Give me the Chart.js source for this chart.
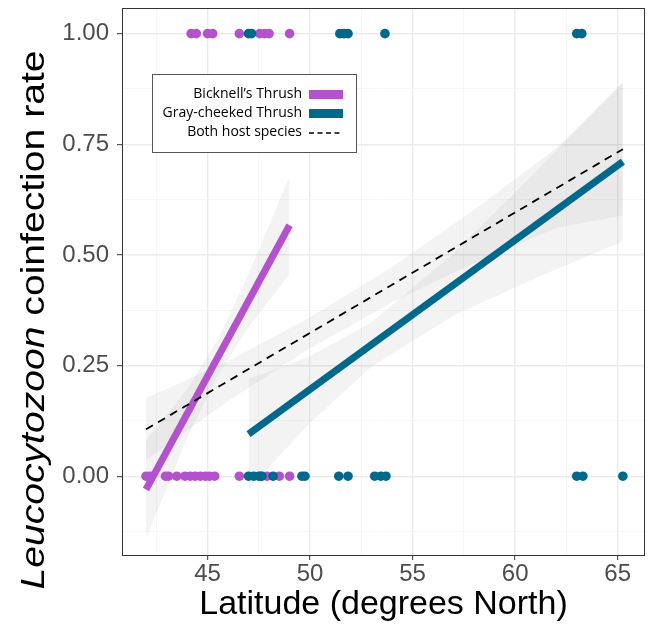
<!DOCTYPE html>
<html>
<head>
<meta charset="utf-8">
<script src="https://cdn.jsdelivr.net/npm/chart.js@4.4.1/dist/chart.umd.min.js"></script>
<style>
  html, body { margin: 0; padding: 0; background: #ffffff; }
  #wrap { width: 651px; height: 626px; position: relative; }
</style>
</head>
<body>
<div id="wrap"><canvas id="c" width="651" height="626"></canvas></div>
<script>
// ---------------- data ----------------
const seriesNames = ["Bicknell\u2019s Thrush", "Gray-cheeked Thrush", "Both host species"];

// Bicknell's Thrush observations (latitude, coinfection 0/1)
const bicknellLat   = [44.2, 44.45, 45.0, 45.25, 46.55, 47.55, 47.8, 48.0, 49.0,
                       42.0, 42.2, 42.95, 43.1, 43.5, 43.9, 44.15, 44.4, 44.65, 44.9, 45.1, 45.35, 46.55, 47.6, 47.9, 48.5, 49.0];
const bicknellCoinf = [1, 1, 1, 1, 1, 1, 1, 1, 1,
                       0, 0, 0, 0, 0, 0, 0, 0, 0, 0, 0, 0, 0, 0, 0, 0, 0];

// Gray-cheeked Thrush observations
const grayLat   = [47.0, 47.15, 51.45, 51.65, 51.85, 53.65, 63.0, 63.25,
                   47.0, 47.25, 47.5, 47.65, 48.2, 49.6, 49.75, 51.4, 51.85, 53.15, 53.45, 53.7, 63.0, 63.3, 65.25];
const grayCoinf = [1, 1, 1, 1, 1, 1, 1, 1,
                   0, 0, 0, 0, 0, 0, 0, 0, 0, 0, 0, 0, 0, 0, 0];

// fitted lines
const bicknellFitX = [42.0, 49.0];
const bicknellFitY = [-0.03, 0.567];
const grayFitX = [47.0, 65.25];
const grayFitY = [0.095, 0.711];
const bothFitX = [42.0, 65.25];
const bothFitY = [0.106, 0.739];

// confidence bands
const bicknellBandX  = [42.0, 44.0, 45.5, 47.0, 49.0];
const bicknellBandLo = [-0.14, 0.086, 0.229, 0.337, 0.457];
const bicknellBandHi = [0.08, 0.196, 0.309, 0.457, 0.677];

const grayBandX  = [47.0, 50.0, 53.0, 57.0, 61.0, 65.25];
const grayBandLo = [-0.03, 0.121, 0.248, 0.363, 0.448, 0.531];
const grayBandHi = [0.22, 0.271, 0.348, 0.503, 0.688, 0.891];

const bothBandX  = [42.0, 46.0, 50.0, 54.0, 58.0, 62.0, 65.25];
const bothBandLo = [0.036, 0.17, 0.289, 0.393, 0.482, 0.561, 0.589];
const bothBandHi = [0.176, 0.26, 0.359, 0.473, 0.602, 0.741, 0.889];

// axes
const xMajorTicks = [45, 50, 55, 60, 65];
const xMinorTicks = [42.5, 47.5, 52.5, 57.5, 62.5];
const yMajorTicks = [0, 0.25, 0.5, 0.75, 1.0];
const yMinorTicks = [-0.125, 0.125, 0.375, 0.625, 0.875];
const xRange = [40.83, 66.33];
const yRange = [-0.178, 1.058];
const xTitle = "Latitude (degrees North)";
const yTitleItalic = "Leucocytozoon";
const yTitleRest = " coinfection rate";

// ---------------- styles ----------------
const purple = "#B452CD";
const teal = "#00688B";
const bandFill = "rgba(150,150,150,0.11)";

const pts = (xs, ys) => xs.map((x, i) => ({ x: x, y: ys[i] }));

const datasets = [
  { type: "line", label: "bLo", data: pts(bicknellBandX, bicknellBandLo), borderWidth: 0, pointRadius: 0, fill: false, order: 20 },
  { type: "line", label: "bHi", data: pts(bicknellBandX, bicknellBandHi), borderWidth: 0, pointRadius: 0, fill: "-1", backgroundColor: bandFill, order: 19 },
  { type: "line", label: "gLo", data: pts(grayBandX, grayBandLo), borderWidth: 0, pointRadius: 0, fill: false, order: 18 },
  { type: "line", label: "gHi", data: pts(grayBandX, grayBandHi), borderWidth: 0, pointRadius: 0, fill: "-1", backgroundColor: bandFill, order: 17 },
  { type: "line", label: "aLo", data: pts(bothBandX, bothBandLo), borderWidth: 0, pointRadius: 0, fill: false, order: 16 },
  { type: "line", label: "aHi", data: pts(bothBandX, bothBandHi), borderWidth: 0, pointRadius: 0, fill: "-1", backgroundColor: bandFill, order: 15 },
  { type: "scatter", label: "bPts", data: pts(bicknellLat, bicknellCoinf), backgroundColor: purple, borderWidth: 0, pointRadius: 4.8, order: 10 },
  { type: "scatter", label: "gPts", data: pts(grayLat, grayCoinf), backgroundColor: teal, borderWidth: 0, pointRadius: 4.8, order: 9 },
  { type: "line", label: seriesNames[0], data: pts(bicknellFitX, bicknellFitY), borderColor: purple, borderWidth: 7, borderCapStyle: "butt", pointRadius: 0, fill: false, order: 3 },
  { type: "line", label: seriesNames[1], data: pts(grayFitX, grayFitY), borderColor: teal, borderWidth: 7, borderCapStyle: "butt", pointRadius: 0, fill: false, order: 2 },
  { type: "line", label: seriesNames[2], data: pts(bothFitX, bothFitY), borderColor: "#000000", borderWidth: 1.8, borderDash: [8, 6], borderCapStyle: "butt", pointRadius: 0, fill: false, order: 1 }
];

const isIn = (arr, v) => arr.some(a => Math.abs(a - v) < 1e-9);
const FONT = "'Liberation Sans', Arial, sans-serif";

const overlay = {
  id: "overlay",
  afterDraw(chart) {
    const ctx = chart.ctx;
    const a = chart.chartArea;
    ctx.save();
    ctx.strokeStyle = "#333333";
    ctx.lineWidth = 1;
    ctx.strokeRect(a.left + 0.5, a.top + 0.5, a.right - a.left - 1, a.bottom - a.top);

    // x title
    ctx.fillStyle = "#000000";
    ctx.font = "34px " + FONT;
    ctx.textAlign = "center";
    ctx.textBaseline = "middle";
    ctx.fillText(xTitle, (a.left + a.right) / 2, 605);

    // y title (mixed italic), slightly stretched along its direction as in the original
    const italicFont = "italic 34px " + FONT;
    const normalFont = "34px " + FONT;
    ctx.font = italicFont;
    const w1 = ctx.measureText(yTitleItalic).width;
    ctx.font = normalFont;
    const w2 = ctx.measureText(yTitleRest).width;
    const total = w1 + w2;
    ctx.translate(35, 320);
    ctx.rotate(-Math.PI / 2);
    ctx.scale(1.15, 1);
    ctx.textAlign = "left";
    ctx.textBaseline = "middle";
    ctx.font = italicFont;
    ctx.fillText(yTitleItalic, -total / 2, 0);
    ctx.font = normalFont;
    ctx.fillText(yTitleRest, -total / 2 + w1, 0);
    ctx.restore();

    // legend
    ctx.save();
    const bx = 152, by = 74, bw = 204, bh = 78;
    ctx.fillStyle = "#ffffff";
    ctx.fillRect(bx, by, bw, bh);
    ctx.strokeStyle = "#555555";
    ctx.lineWidth = 1;
    ctx.strokeRect(bx + 0.5, by + 0.5, bw, bh);
    const rows = [94.5, 113.5, 132.5];
    const fitSets = chart.data.datasets.filter(d => seriesNames.includes(d.label));
    ctx.font = "14px 'Open Sans', 'Noto Sans', sans-serif";
    ctx.textAlign = "right";
    ctx.textBaseline = "middle";
    fitSets.forEach((d, i) => {
      const y = rows[i];
      ctx.fillStyle = "#000000";
      ctx.fillText(d.label, 302, y);
      if (d.borderDash && d.borderDash.length) {
        ctx.strokeStyle = d.borderColor;
        ctx.lineWidth = 1.3;
        ctx.setLineDash([5, 3.5]);
        ctx.beginPath();
        ctx.moveTo(309, y + 0.5);
        ctx.lineTo(343, y + 0.5);
        ctx.stroke();
        ctx.setLineDash([]);
      } else {
        ctx.fillStyle = d.borderColor;
        ctx.fillRect(309, y - 4.5, 34, 9);
      }
    });
    ctx.restore();
  }
};

const zeroPad = (scale) => {
  scale.paddingTop = 0; scale.paddingBottom = 0;
  scale.paddingLeft = 0; scale.paddingRight = 0;
};

new Chart(document.getElementById("c"), {
  type: "scatter",
  data: { datasets: datasets },
  options: {
    responsive: false,
    animation: false,
    layout: { padding: { top: 8, right: 6, left: 0, bottom: 0 } },
    plugins: { legend: { display: false }, tooltip: { enabled: false } },
    scales: {
      x: {
        type: "linear",
        min: xRange[0],
        max: xRange[1],
        afterBuildTicks: (scale) => {
          scale.ticks = xMinorTicks.concat(xMajorTicks).sort((a, b) => a - b).map(v => ({ value: v }));
        },
        afterFit: (scale) => { scale.height = 71; zeroPad(scale); },
        border: { display: false },
        grid: {
          color: (c) => (c.tick && isIn(xMajorTicks, c.tick.value)) ? "#ebebeb" : "#f4f4f4",
          lineWidth: (c) => (c.tick && isIn(xMajorTicks, c.tick.value)) ? 1.4 : 0.8,
          tickColor: (c) => (c.tick && isIn(xMajorTicks, c.tick.value)) ? "#333333" : "rgba(0,0,0,0)",
          tickLength: 5,
          tickWidth: 1
        },
        ticks: {
          autoSkip: false,
          maxRotation: 0,
          padding: 0,
          color: "#4d4d4d",
          font: { family: FONT, size: 24 },
          callback: (v) => isIn(xMajorTicks, v) ? String(Math.round(v)) : ""
        }
      },
      y: {
        type: "linear",
        min: yRange[0],
        max: yRange[1],
        afterBuildTicks: (scale) => {
          scale.ticks = yMinorTicks.concat(yMajorTicks).sort((a, b) => a - b).map(v => ({ value: v }));
        },
        afterFit: (scale) => { scale.width = 122; zeroPad(scale); },
        border: { display: false },
        grid: {
          color: (c) => (c.tick && isIn(yMajorTicks, c.tick.value)) ? "#ebebeb" : "#f4f4f4",
          lineWidth: (c) => (c.tick && isIn(yMajorTicks, c.tick.value)) ? 1.4 : 0.8,
          tickColor: (c) => (c.tick && isIn(yMajorTicks, c.tick.value)) ? "#333333" : "rgba(0,0,0,0)",
          tickLength: 5,
          tickWidth: 1
        },
        ticks: {
          autoSkip: false,
          padding: 8,
          color: "#4d4d4d",
          font: { family: FONT, size: 24 },
          callback: (v) => isIn(yMajorTicks, v) ? v.toFixed(2) : ""
        }
      }
    }
  },
  plugins: [overlay]
});
</script>
</body>
</html>
